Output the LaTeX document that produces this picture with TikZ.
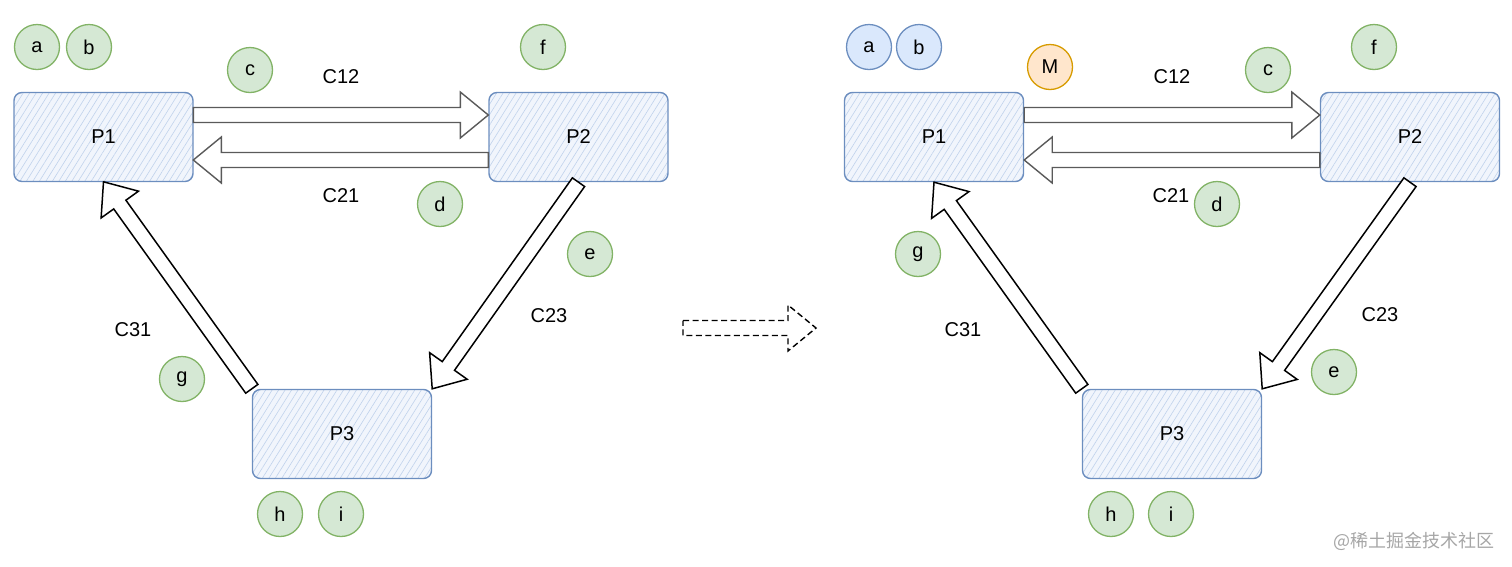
\documentclass[tikz,border=0pt]{standalone}
\usepackage{fontspec}
\setmainfont{Liberation Sans}
\newfontfamily\cjk{Noto Sans CJK SC}
\usetikzlibrary{calc,patterns.meta}
\definecolor{procline}{HTML}{6C8EBF}
\definecolor{procfill}{HTML}{F1F5FC}
\definecolor{prochatch}{HTML}{C0D2EC}
\definecolor{greenline}{HTML}{82B366}
\definecolor{greenfill}{HTML}{D5E8D4}
\definecolor{bluefill}{HTML}{DAE8FC}
\definecolor{orangeline}{HTML}{D79B00}
\definecolor{orangefill}{HTML}{FFE6CC}
\definecolor{chanline}{HTML}{5A5A5A}
\newcommand{\blockarrow}[3][]{%
  \path (#2) coordinate (ba-s) (#3) coordinate (ba-e);
  \path ($(ba-e)!28pt!(ba-s)$) coordinate (ba-h);
  \draw[#1] ($(ba-s)!7.5pt!90:(ba-e)$) -- ($(ba-h)!7.5pt!-90:(ba-s)$)
    -- ($(ba-h)!23pt!-90:(ba-s)$) -- (ba-e) -- ($(ba-h)!23pt!90:(ba-s)$)
    -- ($(ba-h)!7.5pt!90:(ba-s)$) -- ($(ba-s)!7.5pt!-90:(ba-e)$) -- cycle;
}
\begin{document}
\begin{tikzpicture}[x=1pt,y=-1pt,
    every node/.style={font=\fontsize{20}{24}\selectfont},
    proc/.style={draw=procline,line width=1.4pt,rounded corners=8pt,
      minimum width=179pt,minimum height=89pt,inner sep=0pt,
      preaction={fill=procfill},pattern color=prochatch,
      pattern={Lines[angle=58,distance=5.5pt,line width=0.6pt]}},
    ball/.style={circle,draw=greenline,fill=greenfill,line width=1.3pt,
      minimum size=45pt,inner sep=0pt},
    blueball/.style={ball,draw=procline,fill=bluefill},
    orangeball/.style={ball,draw=orangeline,fill=orangefill},
    chan/.style={draw=chanline,line width=1.4pt,line join=miter,fill=white},
    diag/.style={draw=black,line width=1.5pt,line join=miter,fill=white}]
    \useasboundingbox (0,0) rectangle (1512,566);

    \node[proc] (lp1) at (103.5,137) {P1};
    \node[proc] (lp2) at (578.5,137) {P2};
    \node[proc] (lp3) at (342,434) {P3};
    \node[ball] (la) at (37,47) {a};
    \node[ball] (lb) at (89,47) {b};
    \node[ball] (lc) at (250,70) {c};
    \node[ball] (lf) at (543,47) {f};
    \node[ball] (ld) at (440,204) {d};
    \node[ball] (le) at (590,254) {e};
    \node[ball] (lg) at (182,379) {g};
    \node[ball] (lh) at (280,514) {h};
    \node[ball] (li) at (341,514) {i};
    \node (lc12) at (341,77) {C12};
    \node (lc21) at (341,196) {C21};
    \node (lc23) at (549,316) {C23};
    \node (lc31) at (133,330) {C31};
    \blockarrow[chan]{[yshift=22pt]lp1.east}{[yshift=22pt]lp2.west}
    \blockarrow[chan]{[yshift=-23pt]lp2.west}{[yshift=-23pt]lp1.east}
    \blockarrow[diag]{lp2.south}{lp3.north east}
    \blockarrow[diag]{lp3.north west}{lp1.south}

    \coordinate (mid-s) at (683,328);
    \coordinate (mid-e) at (816,328);
    \blockarrow[draw=black,line width=1.4pt,dash pattern=on 6pt off 3.5pt,line join=miter]{mid-s}{mid-e}

    \node[proc] (rp1) at (934,137) {P1};
    \node[proc] (rp2) at (1410,137) {P2};
    \node[proc] (rp3) at (1172,434) {P3};
    \node[blueball] (ra) at (869,47) {a};
    \node[blueball] (rb) at (919,47) {b};
    \node[orangeball] (rm) at (1050,67) {M};
    \node[ball] (rc) at (1268,70) {c};
    \node[ball] (rf) at (1374,47) {f};
    \node[ball] (rd) at (1217,204) {d};
    \node[ball] (rg) at (918,254) {g};
    \node[ball] (re) at (1334,372) {e};
    \node[ball] (rh) at (1111,514) {h};
    \node[ball] (ri) at (1171,514) {i};
    \node (rc12) at (1172,77) {C12};
    \node (rc21) at (1171,196) {C21};
    \node (rc23) at (1380,315) {C23};
    \node (rc31) at (963,330) {C31};
    \blockarrow[chan]{[yshift=22pt]rp1.east}{[yshift=22pt]rp2.west}
    \blockarrow[chan]{[yshift=-23pt]rp2.west}{[yshift=-23pt]rp1.east}
    \blockarrow[diag]{rp2.south}{rp3.north east}
    \blockarrow[diag]{rp3.north west}{rp1.south}

    \node[font=\fontsize{18}{20}\cjk,text=black!35] (mark) at (1414,541) {@稀土掘金技术社区};
\end{tikzpicture}
\end{document}
